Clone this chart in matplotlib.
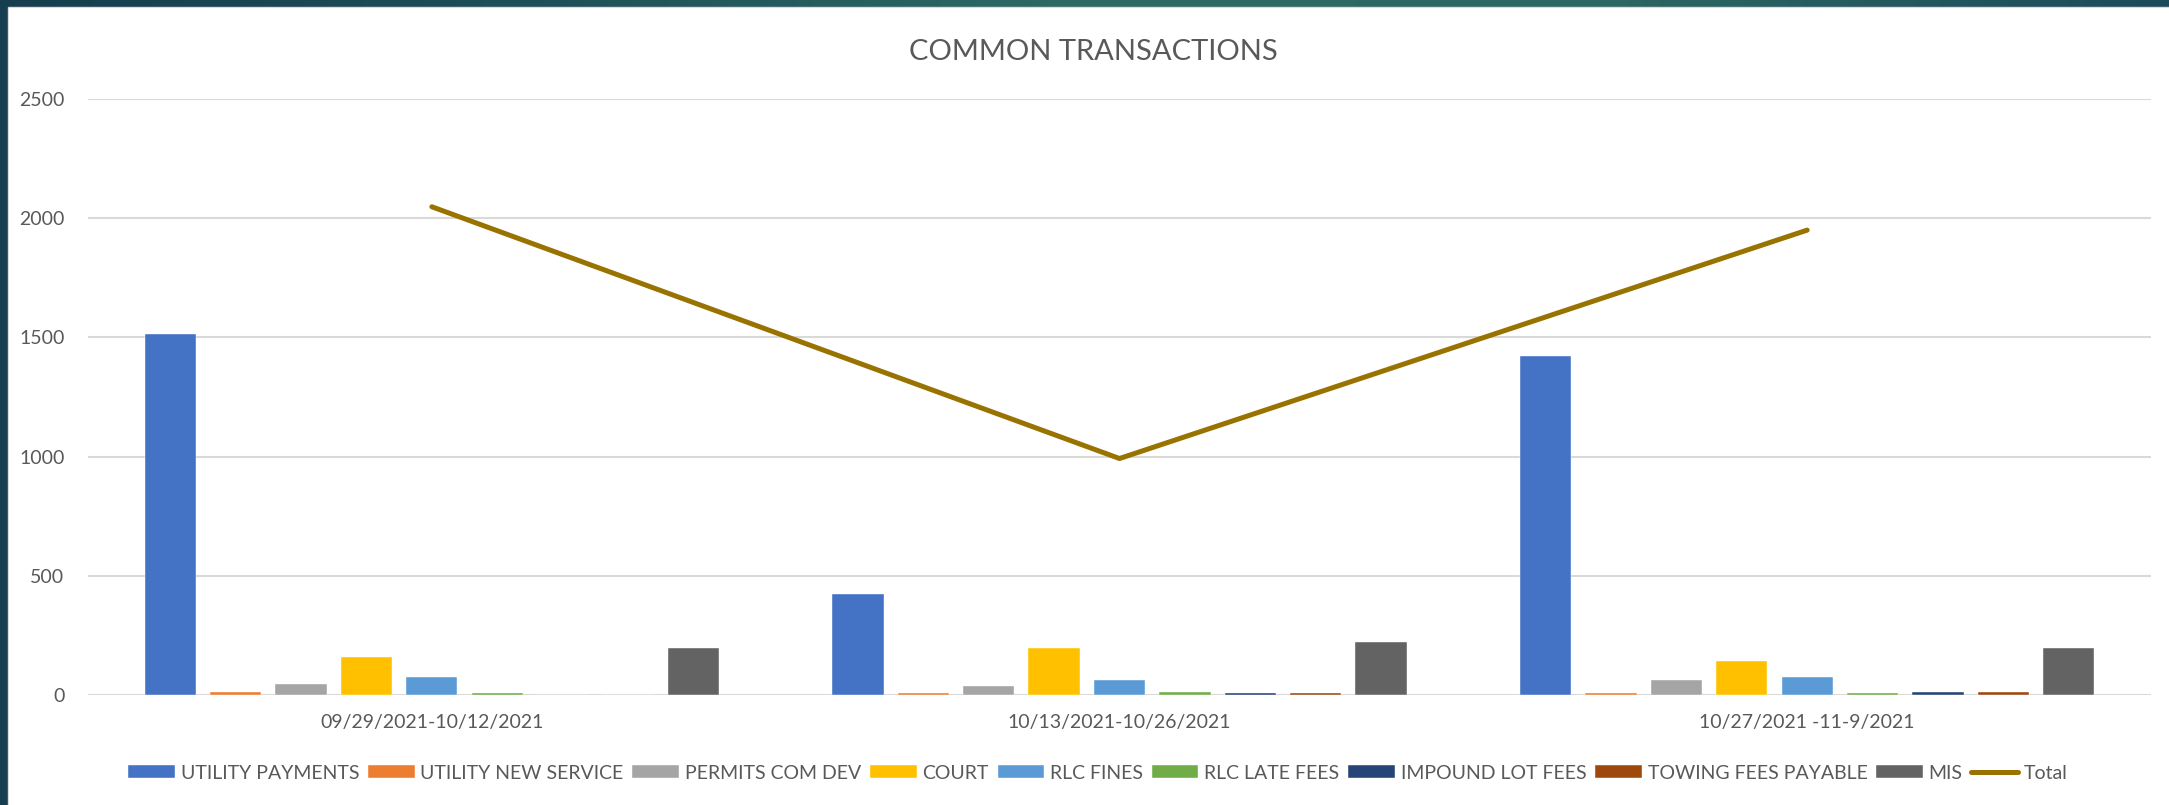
import numpy as np
import matplotlib.pyplot as plt
from matplotlib.colors import LinearSegmentedColormap
from matplotlib.patches import Rectangle

periods = ['09/29/2021-10/12/2021', '10/13/2021-10/26/2021', '10/27/2021 -11-9/2021']

utility_payments = [1515, 424, 1422]
utility_new_service = [12, 8, 8]
permits_com_dev = [47, 38, 63]
court = [161, 196, 143]
rlc_fines = [77, 63, 77]
rlc_late_fees = [8, 12, 8]
impound_lot_fees = [0, 8, 12]
towing_fees_payable = [0, 8, 12]
mis = [196, 221, 196]
total = [2048, 992, 1950]

series_names = ['UTILITY PAYMENTS', 'UTILITY NEW SERVICE', 'PERMITS COM DEV', 'COURT',
                'RLC FINES', 'RLC LATE FEES', 'IMPOUND LOT FEES', 'TOWING FEES PAYABLE', 'MIS']
series_vals = [utility_payments, utility_new_service, permits_com_dev, court, rlc_fines,
               rlc_late_fees, impound_lot_fees, towing_fees_payable, mis]
colors = ['#4472C4', '#ED7D31', '#A5A5A5', '#FFC000', '#5B9BD5',
          '#70AD47', '#264478', '#9E480E', '#636363']
txt = '#595959'

plt.rcParams['font.family'] = ['Lato', 'DejaVu Sans']

W, H = 2169, 805
fig = plt.figure(figsize=(W / 100, H / 100), dpi=100)

# teal frame behind the white chart area
bg = fig.add_axes([0, 0, 1, 1], zorder=-5)
cmap = LinearSegmentedColormap.from_list('frame', ['#163E4E', '#1F5059', '#2E6A65', '#2D6663', '#1C4B5A'])
bg.imshow(np.linspace(0, 1, 256).reshape(1, -1), cmap=cmap, aspect='auto', extent=[0, W, 0, H])
bg.add_patch(Rectangle((8, 0), W - 8, H - 7, color='#D4D4D4', zorder=2))
bg.add_patch(Rectangle((9, 0), W - 9, H - 8, color='white', zorder=3))
bg.set_xlim(0, W)
bg.set_ylim(0, H)
bg.axis('off')

ax = fig.add_axes([88 / W, 1 - 695 / H, (2151 - 88) / W, (695 - 99) / H])
x = np.arange(len(periods))
stride = 0.0951
width = 0.0745
n = len(series_names)
handles = []
for i in range(n):
    b = ax.bar(x + (i - (n - 1) / 2) * stride, series_vals[i], width, color=colors[i],
               edgecolor='white', linewidth=0.3, label=series_names[i], zorder=3)
    handles.append(b)
ln, = ax.plot(x, total, color='#997300', linewidth=3.6, solid_capstyle='round', label='Total', zorder=4)
handles.append(ln)

ax.set_xlim(-0.5, 2.5)
ax.set_ylim(0, 2500)
ax.set_yticks([0, 500, 1000, 1500, 2000, 2500])
ax.set_xticks(x)
ax.set_xticklabels(periods)
ax.grid(axis='y', color='#D9D9D9', linewidth=1.5, zorder=0)
for s in ax.spines.values():
    s.set_visible(False)
ax.tick_params(axis='both', length=0, colors=txt, labelsize=14)
ax.tick_params(axis='x', pad=14)
ax.tick_params(axis='y', pad=17)

fig.text(1093 / W, 1 - 52 / H, 'COMMON TRANSACTIONS', ha='center', va='center',
         fontsize=21, color=txt)

fig.legend(handles=handles, loc='center', bbox_to_anchor=(1098 / W, 1 - 773 / H), ncol=10,
           frameon=False, fontsize=14, labelcolor=txt, handlelength=2.4, handleheight=0.6,
           handletextpad=0.3, columnspacing=0.45)

fig.savefig('out.png', dpi=100)
